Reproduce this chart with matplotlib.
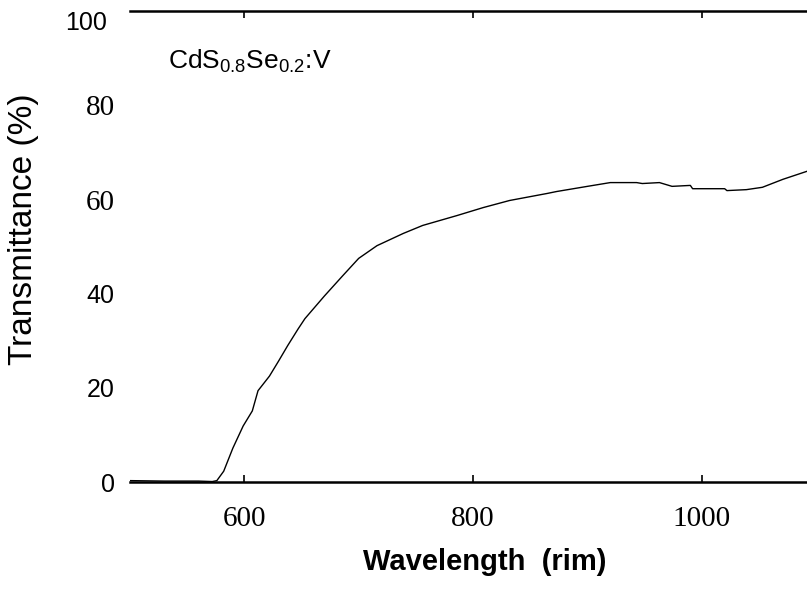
import matplotlib
matplotlib.use("Agg")
import matplotlib.pyplot as plt

plt.rcParams["mathtext.fontset"] = "custom"
plt.rcParams["mathtext.rm"] = "Liberation Sans"
plt.rcParams["mathtext.it"] = "Liberation Sans:italic"

# Data
wavelength = [500, 530, 560, 572, 576, 582, 590, 599, 607, 612, 622, 630, 638, 647,
              653, 670, 686, 700, 716, 739, 756, 786, 809, 832, 865, 873, 900, 920,
              943, 948, 963, 974, 990, 992, 1020, 1022, 1039, 1053, 1071, 1092]
transmittance = [0.3, 0.2, 0.2, 0.1, 0.3, 2.3, 7.2, 11.9, 15.1, 19.4, 22.5, 25.7, 29.0, 32.5,
                 34.7, 39.5, 43.8, 47.5, 50.2, 52.8, 54.5, 56.6, 58.3, 59.8, 61.3, 61.7, 62.8, 63.6,
                 63.6, 63.4, 63.6, 62.8, 63.0, 62.3, 62.3, 61.9, 62.1, 62.6, 64.3, 66.0]

x_ticks = [600, 800, 1000]
y_ticks = [0, 20, 40, 60, 80]
serif_y = {60, 80}

fig = plt.figure(figsize=(8.07, 5.90), dpi=100)
ax = fig.add_axes([0.161, 0.183, 0.839, 0.798])
ax.plot(wavelength, transmittance, color="black", lw=1.0)

ax.set_xlim(500, 1092)
ax.set_ylim(0, 100)

for s in ["left", "right"]:
    ax.spines[s].set_visible(False)
for s in ["top", "bottom"]:
    ax.spines[s].set_linewidth(1.8)

ax.set_xticks(x_ticks)
ax.set_xticklabels([str(t) for t in x_ticks], family="Liberation Serif", fontsize=21)
ax.tick_params(axis="x", direction="in", top=True, bottom=True, length=5, width=1.2, pad=17)

ax.set_yticks(y_ticks)
ax.set_yticklabels([str(t) for t in y_ticks])
ax.tick_params(axis="y", length=0, pad=11)
for lab, t in zip(ax.get_yticklabels(), y_ticks):
    if t in serif_y:
        lab.set_family("Liberation Serif")
        lab.set_fontsize(21)
    else:
        lab.set_family("Liberation Sans")
        lab.set_fontsize(18)

# the "100" label sits slightly lower/left in the original scan
ax.annotate("100", xy=(0, 100), xycoords=("axes fraction", "data"),
            xytext=(-23, -12), textcoords="offset pixels",
            ha="right", va="center", family="Liberation Sans", fontsize=18)

ax.set_xlabel("Wavelength  (rim)", family="Liberation Sans", fontweight="bold", fontsize=21)
ax.xaxis.set_label_coords(0.524, -0.14)
ax.set_ylabel("Transmittance (%)", family="Liberation Sans", fontsize=24)
ax.yaxis.set_label_coords(-0.134, 0.537)

ax.text(0.056, 0.894, r"CdS$_{0.8}$Se$_{0.2}$:V", transform=ax.transAxes,
        family="Liberation Sans", fontsize=19, va="center", ha="left")

fig.savefig("out.png", dpi=100)
